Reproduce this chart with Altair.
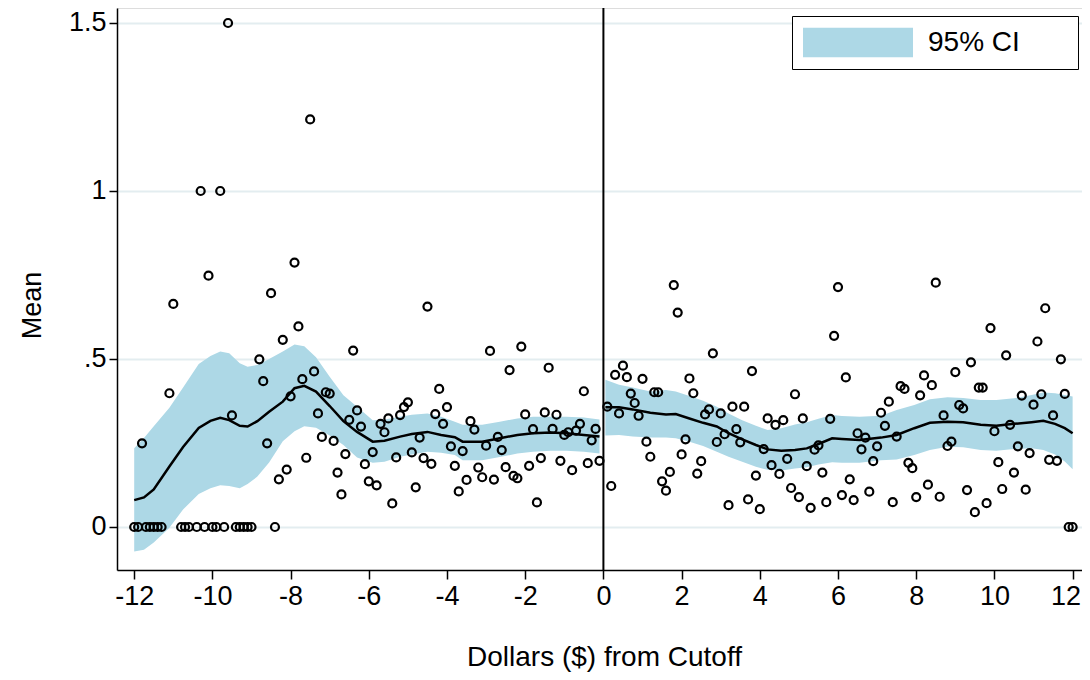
import altair as alt
import pandas as pd

# ---- binned means (open circles) ----
left_x = [-12.0, -11.9, -11.8, -11.7, -11.6, -11.5, -11.4, -11.3, -11.1, -11.0,
          -10.8, -10.7, -10.6, -10.4, -10.3, -10.2, -10.1, -10.0, -9.9, -9.8,
          -9.7, -9.6, -9.5, -9.4, -9.3, -9.2, -9.1, -9.0, -8.8, -8.7,
          -8.6, -8.5, -8.4, -8.3, -8.2, -8.1, -8.0, -7.9, -7.8, -7.7,
          -7.6, -7.5, -7.4, -7.3, -7.2, -7.1, -7.0, -6.9, -6.8, -6.7,
          -6.6, -6.5, -6.4, -6.3, -6.2, -6.1, -6.0, -5.9, -5.8, -5.7,
          -5.6, -5.5, -5.4, -5.3, -5.2, -5.1, -5.0, -4.9, -4.8, -4.7,
          -4.6, -4.5, -4.4, -4.3, -4.2, -4.1, -4.0, -3.9, -3.8, -3.7,
          -3.6, -3.5, -3.4, -3.3, -3.2, -3.1, -3.0, -2.9, -2.8, -2.7,
          -2.6, -2.5, -2.4, -2.3, -2.2, -2.1, -2.0, -1.9, -1.8, -1.7,
          -1.6, -1.5, -1.4, -1.3, -1.2, -1.1, -1.0, -0.9, -0.8, -0.7,
          -0.6, -0.5, -0.4, -0.3, -0.2, -0.1]
left_y = [0, 0, 0.249, 0, 0, 0, 0, 0, 0.398, 0.664,
          0, 0, 0, 0, 1.0, 0, 0.748, 0, 0, 1.0,
          0, 1.5, 0.332, 0, 0, 0, 0, 0, 0.499, 0.434,
          0.249, 0.696, 0, 0.142, 0.557, 0.171, 0.389, 0.787, 0.597, 0.440,
          0.206, 1.213, 0.463, 0.338, 0.268, 0.401, 0.397, 0.256, 0.162, 0.097,
          0.217, 0.319, 0.525, 0.347, 0.299, 0.187, 0.136, 0.223, 0.124, 0.307,
          0.282, 0.323, 0.070, 0.207, 0.333, 0.357, 0.371, 0.222, 0.118, 0.266,
          0.205, 0.656, 0.188, 0.336, 0.411, 0.307, 0.357, 0.240, 0.182, 0.106,
          0.226, 0.140, 0.315, 0.290, 0.177, 0.148, 0.242, 0.524, 0.141, 0.268,
          0.229, 0.178, 0.467, 0.152, 0.145, 0.537, 0.335, 0.182, 0.291, 0.073,
          0.205, 0.341, 0.474, 0.292, 0.334, 0.197, 0.274, 0.282, 0.169, 0.287,
          0.307, 0.404, 0.190, 0.258, 0.292, 0.197]

right_x = [0.1, 0.2, 0.3, 0.4, 0.5, 0.6, 0.7, 0.8, 0.9, 1.0,
           1.1, 1.2, 1.3, 1.4, 1.5, 1.6, 1.7, 1.8, 1.9, 2.0,
           2.1, 2.2, 2.3, 2.4, 2.5, 2.6, 2.7, 2.8, 2.9, 3.0,
           3.1, 3.2, 3.3, 3.4, 3.5, 3.6, 3.7, 3.8, 3.9, 4.0,
           4.1, 4.2, 4.3, 4.4, 4.5, 4.6, 4.7, 4.8, 4.9, 5.0,
           5.1, 5.2, 5.3, 5.4, 5.5, 5.6, 5.7, 5.8, 5.9, 6.0,
           6.1, 6.2, 6.3, 6.4, 6.5, 6.6, 6.7, 6.8, 6.9, 7.0,
           7.1, 7.2, 7.3, 7.4, 7.5, 7.6, 7.7, 7.8, 7.9, 8.0,
           8.1, 8.2, 8.3, 8.4, 8.5, 8.6, 8.7, 8.8, 8.9, 9.0,
           9.1, 9.2, 9.3, 9.4, 9.5, 9.6, 9.7, 9.8, 9.9, 10.0,
           10.1, 10.2, 10.3, 10.4, 10.5, 10.6, 10.7, 10.8, 10.9, 11.0,
           11.1, 11.2, 11.3, 11.4, 11.5, 11.6, 11.7, 11.8, 11.9, 12.0]
right_y = [0.358, 0.122, 0.453, 0.338, 0.480, 0.446, 0.397, 0.369, 0.331, 0.441,
           0.254, 0.209, 0.401, 0.401, 0.136, 0.108, 0.164, 0.720, 0.638, 0.216,
           0.261, 0.442, 0.398, 0.159, 0.196, 0.335, 0.350, 0.517, 0.253, 0.338,
           0.276, 0.065, 0.358, 0.291, 0.252, 0.358, 0.082, 0.464, 0.153, 0.053,
           0.232, 0.323, 0.184, 0.304, 0.158, 0.318, 0.203, 0.116, 0.395, 0.089,
           0.323, 0.181, 0.057, 0.230, 0.243, 0.162, 0.074, 0.322, 0.569, 0.714,
           0.095, 0.445, 0.142, 0.080, 0.279, 0.231, 0.266, 0.105, 0.196, 0.240,
           0.340, 0.301, 0.373, 0.074, 0.269, 0.419, 0.411, 0.191, 0.175, 0.089,
           0.392, 0.451, 0.126, 0.422, 0.727, 0.090, 0.332, 0.241, 0.254, 0.461,
           0.363, 0.353, 0.110, 0.490, 0.044, 0.415, 0.415, 0.071, 0.592, 0.285,
           0.193, 0.113, 0.511, 0.304, 0.162, 0.240, 0.391, 0.111, 0.220, 0.364,
           0.552, 0.395, 0.651, 0.200, 0.332, 0.197, 0.499, 0.396, 0, 0]

# ---- local fit and 95% CI, left of cutoff ----
fitL_x = [-12.0, -11.75, -11.5, -11.1, -10.75, -10.35, -10.05, -9.8, -9.57, -9.3,
          -9.1, -8.85, -8.55, -8.2, -7.9, -7.65, -7.35, -7.0, -6.65, -6.3,
          -5.9, -5.6, -5.2, -4.9, -4.5, -4.15, -3.8, -3.6, -3.1, -2.65,
          -2.2, -1.8, -1.35, -0.95, -0.5, -0.1]
fitL_y = [0.080, 0.088, 0.112, 0.180, 0.238, 0.295, 0.316, 0.325, 0.318, 0.301,
          0.299, 0.315, 0.343, 0.373, 0.413, 0.420, 0.403, 0.360, 0.315, 0.283,
          0.254, 0.257, 0.269, 0.277, 0.283, 0.274, 0.267, 0.254, 0.254, 0.264,
          0.274, 0.279, 0.281, 0.279, 0.274, 0.269]
fitL_lo = [-0.073, -0.068, -0.046, -0.002, 0.052, 0.098, 0.115, 0.124, 0.122, 0.115,
           0.128, 0.150, 0.192, 0.255, 0.285, 0.300, 0.295, 0.272, 0.244, 0.207,
           0.191, 0.194, 0.209, 0.216, 0.224, 0.221, 0.214, 0.199, 0.199, 0.208,
           0.219, 0.224, 0.227, 0.227, 0.224, 0.219]
fitL_hi = [0.234, 0.265, 0.300, 0.355, 0.415, 0.485, 0.509, 0.522, 0.517, 0.487,
           0.477, 0.482, 0.500, 0.522, 0.543, 0.538, 0.505, 0.447, 0.392, 0.358,
           0.318, 0.320, 0.328, 0.334, 0.338, 0.328, 0.313, 0.304, 0.304, 0.313,
           0.323, 0.328, 0.328, 0.328, 0.326, 0.320]

# ---- local fit and 95% CI, right of cutoff ----
fitR_x = [0.05, 0.4, 0.75, 1.2, 1.6, 1.85, 2.2, 2.55, 2.9, 3.2,
          3.55, 3.9, 4.2, 4.55, 4.9, 5.2, 5.5, 5.85, 6.1, 6.55,
          7.1, 7.5, 7.95, 8.35, 8.8, 9.2, 9.65, 10.05, 10.5, 10.95,
          11.25, 11.55, 11.8, 12.0]
fitR_y = [0.356, 0.356, 0.350, 0.340, 0.335, 0.336, 0.323, 0.310, 0.299, 0.279,
          0.261, 0.244, 0.231, 0.227, 0.229, 0.234, 0.247, 0.264, 0.262, 0.259,
          0.266, 0.274, 0.294, 0.310, 0.313, 0.312, 0.304, 0.301, 0.307, 0.312,
          0.316, 0.307, 0.294, 0.279]
fitR_lo = [0.272, 0.274, 0.269, 0.266, 0.266, 0.264, 0.254, 0.241, 0.224, 0.209,
           0.194, 0.179, 0.170, 0.168, 0.174, 0.178, 0.186, 0.193, 0.191, 0.191,
           0.199, 0.201, 0.214, 0.229, 0.239, 0.237, 0.229, 0.227, 0.232, 0.234,
           0.229, 0.216, 0.195, 0.172]
fitR_hi = [0.438, 0.423, 0.415, 0.403, 0.408, 0.403, 0.390, 0.376, 0.358, 0.338,
           0.318, 0.301, 0.289, 0.294, 0.305, 0.312, 0.322, 0.333, 0.330, 0.328,
           0.331, 0.348, 0.363, 0.380, 0.386, 0.384, 0.378, 0.378, 0.383, 0.393,
           0.400, 0.398, 0.393, 0.388]

x_ticks = [-12, -10, -8, -6, -4, -2, 0, 2, 4, 6, 8, 10, 12]
y_ticks = [0, 0.5, 1, 1.5]
cutoff = [0]
ci_label = "95% CI"

points = pd.DataFrame({"x": left_x + right_x, "y": left_y + right_y})
fit = pd.DataFrame({
    "x": fitL_x + fitR_x,
    "fit": fitL_y + fitR_y,
    "lo": fitL_lo + fitR_lo,
    "hi": fitL_hi + fitR_hi,
    "side": ["left"] * len(fitL_x) + ["right"] * len(fitR_x),
    "ci": [ci_label] * (len(fitL_x) + len(fitR_x)),
})

FONT = "Liberation Sans"
xscale = alt.Scale(domain=[-12.44, 12.24], nice=False, zero=False)
yscale = alt.Scale(domain=[-0.128, 1.5446], nice=False, zero=False)

x_axis = alt.Axis(values=x_ticks, title="Dollars ($) from Cutoff",
                  labelExpr="datum.value < 0 ? '-' + abs(datum.value) : '' + datum.value",
                  labelOffset={"condition": {"test": "datum.value == 12", "value": -7}, "value": 0},
                  grid=False, tickSize=9, tickWidth=1.5, tickColor="black",
                  domainColor="black", domainWidth=1.5,
                  labelFont=FONT, labelFontSize=27, labelColor="black", labelPadding=4,
                  titleFont=FONT, titleFontSize=28, titleFontWeight="normal",
                  titleColor="black", titleX=487, titleY=87, titleBaseline="middle")
y_axis = alt.Axis(values=y_ticks, title="Mean",
                  labelExpr="datum.value == 0.5 ? '.5' : '' + datum.value",
                  grid=True, gridColor="#e3edf0", gridWidth=2,
                  tickSize=8, tickWidth=1.5, tickColor="black",
                  domainColor="black", domainWidth=1.5,
                  labelFont=FONT, labelFontSize=27, labelColor="black", labelPadding=3,
                  labelAngle=0,
                  titleFont=FONT, titleFontSize=27, titleFontWeight="normal",
                  titleColor="black", titleX=-85, titleY=297, titleAngle=-90,
                  titleAlign="center", titleBaseline="middle")

# label padded with no-break spaces (closed by a zero-width space so they are kept)
legend_pad = "\u00a0" * 6 + "\u200b"

band = alt.Chart(fit).mark_area(opacity=1, clip=False).encode(
    x=alt.X("x:Q", scale=xscale, axis=x_axis),
    y=alt.Y("lo:Q", scale=yscale, axis=y_axis),
    y2="hi:Q",
    detail="side:N",
    color=alt.Color("ci:N", scale=alt.Scale(range=["#add8e6"]),
                    legend=alt.Legend(title=None, orient="none", legendX=675, legendY=8,
                                      strokeColor="black", fillColor="white",
                                      padding=11, cornerRadius=0,
                                      symbolType="M-1,-0.27H1V0.27H-1Z",
                                      symbolSize=12100, symbolStrokeWidth=0,
                                      symbolOpacity=1, clipHeight=31,
                                      labelFont=FONT, labelFontSize=28, labelLimit=400,
                                      labelColor="black", labelOffset=15,
                                      labelExpr="datum.label + '" + legend_pad + "'")),
)

line = alt.Chart(fit).mark_line(color="black", strokeWidth=2.5).encode(
    x=alt.X("x:Q", scale=xscale),
    y=alt.Y("fit:Q", scale=yscale),
    detail="side:N",
)

dots = alt.Chart(points).mark_point(shape="circle", filled=False, color="black",
                                    size=64, strokeWidth=2.2, opacity=1).encode(
    x=alt.X("x:Q", scale=xscale),
    y=alt.Y("y:Q", scale=yscale),
)

rule = alt.Chart(pd.DataFrame({"x": cutoff})).mark_rule(color="black", strokeWidth=2).encode(
    x=alt.X("x:Q", scale=xscale),
)

chart = alt.layer(band, line, dots, rule).properties(
    width=965, height=562,
    autosize=alt.AutoSizeParams(type="none"),
    padding={"left": 109, "top": 0, "right": 0, "bottom": 102},
).configure_view(stroke=None).configure(background="white")

chart.save("out.html", embed_options={"renderer": "svg", "actions": False})
